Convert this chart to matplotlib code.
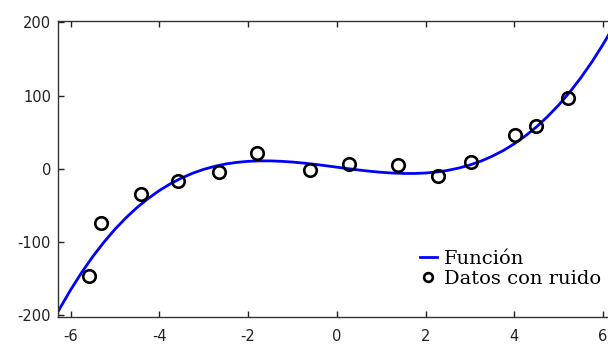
import matplotlib
matplotlib.use("Agg")
import matplotlib.pyplot as plt

# Curve values
curve_x = [-6.5, -6.25, -6.0, -5.75, -5.5, -5.25, -5.0, -4.75, -4.5, -4.25, -4.0, -3.75,
           -3.5, -3.25, -3.0, -2.75, -2.5, -2.25, -2.0, -1.75, -1.5, -1.25, -1.0, -0.75,
           -0.5, -0.25, 0.0, 0.25, 0.5, 0.75, 1.0, 1.25, 1.5, 1.75, 2.0, 2.25, 2.5, 2.75,
           3.0, 3.25, 3.5, 3.75, 4.0, 4.25, 4.5, 4.75, 5.0, 5.25, 5.5, 5.75, 6.0, 6.25, 6.5]
curve_y = [-220.6, -192.1, -166, -142.1, -120.4, -100.7, -83, -67.2, -53.1, -40.8, -30, -20.7,
           -12.9, -6.3, -1, 3.2, 6.4, 8.6, 10, 10.6, 10.6, 10.0, 9, 7.6,
           5.9, 4.0, 2, 0.0, -1.9, -3.6, -5, -6.0, -6.6, -6.6, -6, -4.6, -2.4, 0.8,
           5, 10.3, 16.9, 24.7, 34, 44.8, 57.1, 71.2, 87, 104.7, 124.4, 146.1, 170, 196.1, 224.6]

# Noisy data points
data_x = [-5.59, -5.31, -4.41, -3.57, -2.65, -1.79, -0.60, 0.28, 1.37, 2.27, 3.03, 4.02, 4.50, 5.22]
data_y = [-147, -75, -35, -17, -4, 21, -2, 7, 5, -10, 9, 46, 59, 96]

xticks = [-6, -4, -2, 0, 2, 4, 6]
yticks = [-200, -100, 0, 100, 200]

W, H = 608, 345
fig = plt.figure(figsize=(W / 100, H / 100), dpi=100)
ax = fig.add_axes([58 / W, 28 / H, (615.6 - 58) / W, (317 - 21) / H])

ax.plot(curve_x, curve_y, color="#0000ff", lw=2.0, label="Función", zorder=2)
ax.plot(data_x, data_y, linestyle="none", marker="o", ms=9, mfc="none",
        mec="black", mew=1.9, label="Datos con ruido", zorder=3)

ax.set_xlim(-6.2832, 6.2832)
ax.set_ylim(-203, 202)
ax.set_xticks(xticks)
ax.set_yticks(yticks)
ax.set_xticklabels([str(v) for v in xticks])
ax.set_yticklabels([str(v) for v in yticks])
ax.tick_params(direction="in", length=4, width=1, top=True, right=True,
               labelsize=10.5, colors="#222222")
ax.tick_params(axis="y", pad=5)
ax.tick_params(axis="x", pad=8.5)
for lab in ax.get_xticklabels() + ax.get_yticklabels():
    lab.set_family("DejaVu Sans")
for s in ax.spines.values():
    s.set_color("#333333")
    s.set_linewidth(1.0)

leg = ax.legend(loc="lower right", bbox_to_anchor=(601 / W, (345 - 288) / H),
                bbox_transform=fig.transFigure, frameon=False, borderpad=0,
                borderaxespad=0, handlelength=0.88, handletextpad=0.36,
                labelspacing=0.1, markerscale=0.7,
                prop={"family": "DejaVu Serif", "size": 14})
for t in leg.get_texts():
    t.set_color("black")

fig.savefig("out.png", dpi=100, facecolor="white")
